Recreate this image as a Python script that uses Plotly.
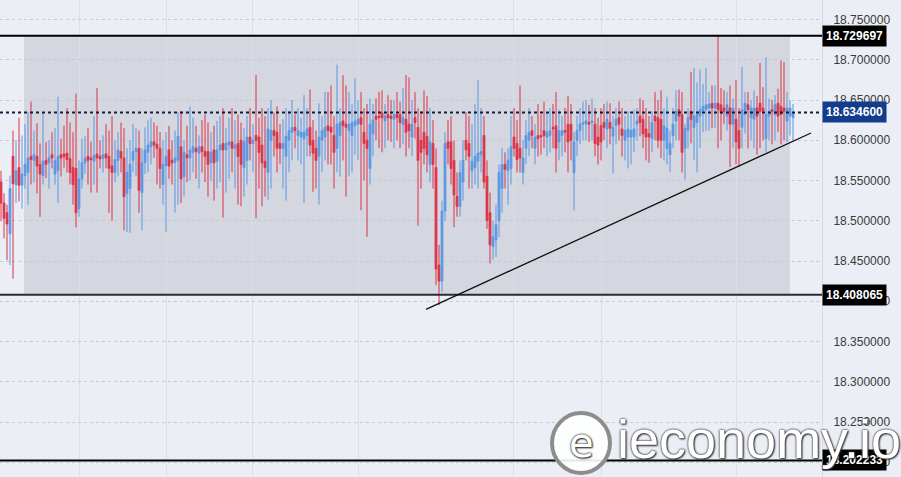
import plotly.graph_objects as go

# ---------------- data ----------------
opens = [
    18.548, 18.522, 18.510, 18.484, 18.580, 18.545, 18.566, 18.544, 18.556, 18.560,
    18.580, 18.575, 18.580, 18.570, 18.556, 18.575, 18.572, 18.582, 18.558, 18.562,
    18.582, 18.583, 18.584, 18.577, 18.566, 18.565, 18.515, 18.552, 18.572, 18.580,
    18.578, 18.574, 18.583, 18.580, 18.577, 18.583, 18.580, 18.568, 18.560, 18.575,
    18.586, 18.578, 18.534, 18.540, 18.575, 18.586, 18.590, 18.535, 18.572, 18.585,
    18.592, 18.598, 18.595, 18.590, 18.545, 18.568, 18.588, 18.575, 18.572, 18.575,
    18.592, 18.555, 18.582, 18.578, 18.585, 18.590, 18.584, 18.592, 18.586, 18.586,
    18.572, 18.588, 18.574, 18.588, 18.596, 18.588, 18.594, 18.598, 18.590, 18.596,
    18.600, 18.566, 18.575, 18.604, 18.596, 18.606, 18.604, 18.594, 18.574, 18.560,
    18.600, 18.612, 18.610, 18.596, 18.590, 18.580, 18.600, 18.610, 18.616, 18.606,
    18.604, 18.602, 18.606, 18.616, 18.600, 18.590, 18.580, 18.600, 18.604, 18.618,
    18.616, 18.606, 18.590, 18.606, 18.624, 18.620, 18.612, 18.606, 18.618, 18.620,
    18.628, 18.610, 18.600, 18.565, 18.608, 18.630, 18.630, 18.634, 18.624, 18.632,
    18.630, 18.626, 18.632, 18.632, 18.620, 18.626, 18.620, 18.604, 18.628, 18.616,
    18.600, 18.610, 18.605, 18.570, 18.596, 18.566, 18.445, 18.425, 18.512, 18.598,
    18.598, 18.575, 18.530, 18.518, 18.548, 18.600, 18.596, 18.562, 18.566, 18.574,
    18.582, 18.606, 18.555, 18.510, 18.468, 18.476, 18.500, 18.540, 18.570, 18.562,
    18.565, 18.604, 18.596, 18.590, 18.560, 18.590, 18.600, 18.612, 18.590, 18.606,
    18.606, 18.612, 18.604, 18.606, 18.616, 18.618, 18.598, 18.606, 18.612, 18.620,
    18.620, 18.560, 18.600, 18.612, 18.620, 18.620, 18.622, 18.622, 18.620, 18.604,
    18.618, 18.622, 18.614, 18.622, 18.605, 18.618, 18.628, 18.614, 18.600, 18.604,
    18.604, 18.604, 18.620, 18.630, 18.626, 18.614, 18.608, 18.602, 18.630, 18.628,
    18.626, 18.600, 18.590, 18.582, 18.606, 18.624, 18.638, 18.632, 18.590, 18.612,
    18.636, 18.616, 18.622, 18.630, 18.636, 18.638, 18.640, 18.646, 18.640, 18.646,
    18.644, 18.640, 18.630, 18.640, 18.620, 18.626, 18.612, 18.616, 18.632, 18.644,
    18.628, 18.626, 18.640, 18.646, 18.640, 18.602, 18.630, 18.638, 18.632, 18.646,
    18.642, 18.640, 18.624, 18.630, 18.628,
]
highs = [
    18.562, 18.534, 18.520, 18.556, 18.612, 18.600, 18.628, 18.606, 18.620, 18.635,
    18.648, 18.612, 18.621, 18.596, 18.635, 18.598, 18.600, 18.610, 18.615, 18.654,
    18.602, 18.618, 18.640, 18.622, 18.610, 18.658, 18.575, 18.602, 18.605, 18.615,
    18.598, 18.630, 18.665, 18.600, 18.606, 18.620, 18.612, 18.630, 18.600, 18.610,
    18.622, 18.615, 18.590, 18.600, 18.620, 18.615, 18.612, 18.590, 18.616, 18.625,
    18.628, 18.622, 18.618, 18.610, 18.600, 18.610, 18.618, 18.600, 18.612, 18.635,
    18.636, 18.600, 18.618, 18.642, 18.628, 18.618, 18.606, 18.625, 18.632, 18.622,
    18.610, 18.618, 18.624, 18.630, 18.640, 18.615, 18.628, 18.640, 18.625, 18.632,
    18.622, 18.615, 18.630, 18.640, 18.620, 18.681, 18.628, 18.640, 18.630, 18.640,
    18.650, 18.634, 18.642, 18.620, 18.626, 18.640, 18.636, 18.650, 18.632, 18.640,
    18.628, 18.656, 18.640, 18.663, 18.625, 18.612, 18.646, 18.630, 18.660, 18.660,
    18.668, 18.630, 18.694, 18.640, 18.681, 18.668, 18.660, 18.645, 18.677, 18.650,
    18.660, 18.640, 18.645, 18.652, 18.645, 18.652, 18.660, 18.662, 18.645, 18.656,
    18.650, 18.650, 18.660, 18.648, 18.665, 18.681, 18.678, 18.650, 18.660, 18.640,
    18.636, 18.662, 18.655, 18.640, 18.625, 18.590, 18.470, 18.525, 18.610, 18.625,
    18.630, 18.600, 18.560, 18.575, 18.600, 18.635, 18.630, 18.620, 18.645, 18.675,
    18.640, 18.630, 18.575, 18.535, 18.500, 18.520, 18.570, 18.590, 18.585, 18.590,
    18.630, 18.640, 18.625, 18.668, 18.600, 18.625, 18.640, 18.630, 18.620, 18.645,
    18.632, 18.648, 18.635, 18.640, 18.645, 18.660, 18.638, 18.630, 18.640, 18.655,
    18.645, 18.610, 18.630, 18.640, 18.648, 18.650, 18.644, 18.652, 18.640, 18.628,
    18.640, 18.645, 18.648, 18.646, 18.630, 18.640, 18.648, 18.640, 18.630, 18.636,
    18.632, 18.638, 18.640, 18.652, 18.650, 18.640, 18.630, 18.636, 18.660, 18.650,
    18.662, 18.640, 18.654, 18.612, 18.640, 18.662, 18.663, 18.660, 18.620, 18.640,
    18.685, 18.690, 18.672, 18.688, 18.670, 18.690, 18.660, 18.668, 18.668, 18.729,
    18.665, 18.662, 18.660, 18.668, 18.652, 18.675, 18.640, 18.691, 18.660, 18.660,
    18.650, 18.662, 18.655, 18.696, 18.666, 18.703, 18.652, 18.650, 18.656, 18.664,
    18.699, 18.697, 18.660, 18.650, 18.645,
]
lows = [
    18.500, 18.478, 18.451, 18.445, 18.428, 18.522, 18.524, 18.515, 18.540, 18.520,
    18.545, 18.548, 18.534, 18.505, 18.545, 18.553, 18.540, 18.565, 18.545, 18.522,
    18.555, 18.566, 18.560, 18.545, 18.520, 18.492, 18.505, 18.540, 18.558, 18.545,
    18.535, 18.545, 18.535, 18.565, 18.560, 18.565, 18.510, 18.500, 18.548, 18.555,
    18.560, 18.488, 18.486, 18.485, 18.560, 18.555, 18.510, 18.488, 18.558, 18.560,
    18.570, 18.578, 18.545, 18.540, 18.520, 18.486, 18.552, 18.545, 18.510, 18.520,
    18.522, 18.530, 18.548, 18.550, 18.560, 18.552, 18.540, 18.560, 18.548, 18.530,
    18.550, 18.525, 18.540, 18.548, 18.504, 18.535, 18.552, 18.560, 18.540, 18.520,
    18.518, 18.530, 18.545, 18.575, 18.560, 18.503, 18.540, 18.518, 18.530, 18.526,
    18.540, 18.580, 18.560, 18.570, 18.540, 18.525, 18.560, 18.575, 18.590, 18.575,
    18.570, 18.522, 18.580, 18.580, 18.536, 18.540, 18.520, 18.560, 18.575, 18.570,
    18.570, 18.540, 18.560, 18.555, 18.575, 18.530, 18.555, 18.560, 18.582, 18.575,
    18.513, 18.550, 18.480, 18.545, 18.580, 18.600, 18.590, 18.585, 18.590, 18.600,
    18.598, 18.590, 18.600, 18.590, 18.595, 18.580, 18.590, 18.580, 18.602, 18.494,
    18.540, 18.570, 18.560, 18.548, 18.540, 18.420, 18.395, 18.412, 18.500, 18.570,
    18.545, 18.492, 18.505, 18.505, 18.525, 18.575, 18.540, 18.540, 18.545, 18.540,
    18.560, 18.540, 18.490, 18.447, 18.452, 18.455, 18.480, 18.510, 18.540, 18.520,
    18.545, 18.580, 18.560, 18.560, 18.545, 18.570, 18.580, 18.590, 18.570, 18.580,
    18.582, 18.590, 18.580, 18.585, 18.590, 18.560, 18.575, 18.580, 18.585, 18.560,
    18.575, 18.513, 18.580, 18.595, 18.600, 18.600, 18.598, 18.600, 18.580, 18.570,
    18.575, 18.600, 18.590, 18.595, 18.559, 18.595, 18.600, 18.580, 18.575, 18.565,
    18.570, 18.585, 18.600, 18.605, 18.590, 18.575, 18.572, 18.585, 18.600, 18.590,
    18.578, 18.575, 18.570, 18.560, 18.590, 18.600, 18.600, 18.560, 18.551, 18.590,
    18.596, 18.575, 18.560, 18.590, 18.610, 18.612, 18.612, 18.615, 18.615, 18.590,
    18.600, 18.620, 18.612, 18.567, 18.590, 18.570, 18.567, 18.590, 18.608, 18.590,
    18.600, 18.590, 18.582, 18.590, 18.600, 18.585, 18.600, 18.595, 18.600, 18.610,
    18.595, 18.600, 18.598, 18.606, 18.600,
]
closes = [
    18.522, 18.503, 18.496, 18.540, 18.546, 18.562, 18.544, 18.558, 18.570, 18.578,
    18.576, 18.582, 18.568, 18.558, 18.574, 18.570, 18.578, 18.578, 18.575, 18.580,
    18.578, 18.580, 18.576, 18.560, 18.545, 18.510, 18.552, 18.572, 18.578, 18.575,
    18.576, 18.581, 18.578, 18.577, 18.582, 18.578, 18.565, 18.560, 18.576, 18.588,
    18.578, 18.530, 18.560, 18.570, 18.586, 18.590, 18.538, 18.572, 18.588, 18.594,
    18.598, 18.594, 18.590, 18.565, 18.570, 18.580, 18.568, 18.572, 18.578, 18.605,
    18.552, 18.585, 18.578, 18.588, 18.592, 18.586, 18.592, 18.586, 18.580, 18.570,
    18.585, 18.572, 18.588, 18.594, 18.588, 18.596, 18.598, 18.590, 18.594, 18.580,
    18.570, 18.598, 18.604, 18.596, 18.600, 18.600, 18.585, 18.572, 18.566, 18.614,
    18.612, 18.606, 18.590, 18.590, 18.596, 18.605, 18.612, 18.616, 18.612, 18.612,
    18.610, 18.610, 18.614, 18.594, 18.584, 18.575, 18.604, 18.612, 18.616, 18.612,
    18.610, 18.585, 18.620, 18.622, 18.618, 18.616, 18.620, 18.622, 18.624, 18.626,
    18.620, 18.596, 18.590, 18.620, 18.625, 18.626, 18.628, 18.628, 18.630, 18.628,
    18.627, 18.632, 18.628, 18.622, 18.628, 18.610, 18.612, 18.620, 18.622, 18.575,
    18.585, 18.590, 18.582, 18.598, 18.570, 18.440, 18.425, 18.512, 18.596, 18.590,
    18.565, 18.532, 18.518, 18.560, 18.575, 18.588, 18.580, 18.574, 18.580, 18.584,
    18.586, 18.548, 18.500, 18.470, 18.480, 18.495, 18.560, 18.570, 18.564, 18.575,
    18.592, 18.590, 18.576, 18.578, 18.578, 18.606, 18.610, 18.606, 18.604, 18.602,
    18.604, 18.606, 18.610, 18.612, 18.614, 18.590, 18.612, 18.612, 18.610, 18.598,
    18.600, 18.598, 18.612, 18.620, 18.622, 18.624, 18.620, 18.624, 18.596, 18.594,
    18.598, 18.616, 18.626, 18.615, 18.616, 18.626, 18.620, 18.606, 18.612, 18.614,
    18.612, 18.614, 18.624, 18.622, 18.608, 18.604, 18.604, 18.622, 18.624, 18.600,
    18.600, 18.618, 18.615, 18.596, 18.620, 18.636, 18.630, 18.585, 18.615, 18.628,
    18.626, 18.630, 18.632, 18.638, 18.642, 18.644, 18.645, 18.640, 18.646, 18.638,
    18.634, 18.636, 18.644, 18.620, 18.640, 18.598, 18.590, 18.638, 18.646, 18.638,
    18.640, 18.640, 18.630, 18.636, 18.636, 18.632, 18.636, 18.636, 18.644, 18.630,
    18.632, 18.636, 18.640, 18.640, 18.6346,
]
bar_index = list(range(len(closes)))

# chart levels
level_top = 18.729697
level_bottom = 18.408065
level_low = 18.202233
last_price = 18.634600
y_ticks = [18.20, 18.25, 18.30, 18.35, 18.40, 18.45, 18.50, 18.55, 18.60, 18.65, 18.70, 18.75]
time_grid = [26.33, 55.33, 83.67, 119.0, 170.67, 200.0, 245.33]
box_span = [7.67, 263.0]
trend_x = [141.67, 270.0]
trend_y = [18.390, 18.609]

RED = "#dc3346"
BLUE = "#5a97e2"
BG = "#ebeef5"

fig = go.Figure()
fig.add_trace(go.Candlestick(
    x=bar_index, open=opens, high=highs, low=lows, close=closes,
    increasing=dict(line=dict(color=BLUE, width=1), fillcolor=BLUE),
    decreasing=dict(line=dict(color=RED, width=1), fillcolor=RED),
    hoverinfo="skip", showlegend=False,
))

shapes = [
    dict(type="rect", xref="x", yref="y", x0=box_span[0], x1=box_span[1],
         y0=level_bottom, y1=level_top, fillcolor="#d4d7df", line=dict(width=0), layer="below"),
    dict(type="line", xref="paper", yref="y", x0=0, x1=1, y0=level_top, y1=level_top,
         line=dict(color="#000000", width=2)),
    dict(type="line", xref="paper", yref="y", x0=0, x1=1, y0=level_bottom, y1=level_bottom,
         line=dict(color="#2a2c33", width=2)),
    dict(type="line", xref="paper", yref="y", x0=0, x1=1, y0=level_low, y1=level_low,
         line=dict(color="#000000", width=2)),
    dict(type="line", xref="paper", yref="y", x0=0, x1=1, y0=last_price, y1=last_price,
         line=dict(color="#141c3c", width=2, dash="dot")),
    dict(type="line", xref="x", yref="y", x0=trend_x[0], x1=trend_x[1], y0=trend_y[0], y1=trend_y[1],
         line=dict(color="#111111", width=1.3)),
    # watermark logo ring
    dict(type="circle", xref="paper", yref="paper", x0=552/822, x1=610/822,
         y0=(477-473)/477, y1=(477-413)/477, fillcolor="rgba(255,255,255,0.9)",
         line=dict(color="#8d8d8d", width=4)),
]

def price_tag(y, text, bg):
    return dict(xref="paper", yref="y", x=1, y=y, xanchor="left", yanchor="middle",
                text=text, showarrow=False, bgcolor=bg, borderpad=3,
                font=dict(family="Liberation Sans", size=12, color="#ffffff", weight="bold"))

annotations = [
    price_tag(level_top, f"{level_top:.6f}", "#000000"),
    price_tag(last_price, f"{last_price:.6f}", "#123c8c"),
    price_tag(level_bottom, f"{level_bottom:.6f}", "#000000"),
    price_tag(level_low, f"{level_low:.6f}", "#000000"),
    dict(xref="paper", yref="paper", x=581/822, y=(477-443)/477, xanchor="center", yanchor="middle",
         text="e", showarrow=False,
         font=dict(family="DejaVu Sans", size=40, color="#ffffff",
                   shadow="0 0 2px #444, 0 0 2px #444, 1px 1px 2px #222")),
    dict(xref="paper", yref="paper", x=615/822, y=(477-439)/477, xanchor="left", yanchor="middle",
         text="ieconomy.io", showarrow=False,
         font=dict(family="Liberation Sans", size=54, color="#ffffff",
                   shadow="0 0 2px #444, 0 0 2px #444, 1px 1px 2px #222")),
]

fig.update_layout(
    width=901, height=477,
    margin=dict(l=0, r=79, t=0, b=0, autoexpand=False),
    paper_bgcolor=BG, plot_bgcolor=BG,
    shapes=shapes, annotations=annotations,
    showlegend=False, boxgap=0.15,
    xaxis=dict(range=[-1/3, 274 - 1/3], rangeslider=dict(visible=False),
               tickvals=time_grid, showticklabels=False, ticks="",
               showgrid=True, gridcolor="#dcdfe7", gridwidth=1, zeroline=False),
    yaxis=dict(side="right", range=[18.18168, 18.77422], tickvals=y_ticks, tickformat=".6f",
               showgrid=True, gridcolor="#c6cad4", griddash="dot", gridwidth=1,
               zeroline=False, ticks="", ticklabelstandoff=8, automargin=False,
               showline=True, linecolor="#d6d9e1", linewidth=1,
               tickfont=dict(family="Liberation Sans", size=12, color="#3a3a3a")),
)

fig.write_html("out.html", config={"displayModeBar": False},
               post_script="document.body.style.margin='0';")
